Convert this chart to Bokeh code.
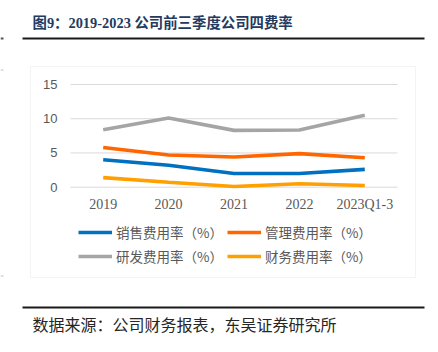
from bokeh.plotting import figure
from bokeh.models import (Range1d, Legend, LegendItem, FixedTicker, LinearAxis,
                          Label, BoxAnnotation)
from bokeh.core.properties import value
from bokeh.embed import file_html
from bokeh.resources import INLINE

categories = ["2019", "2020", "2021", "2022", "2023Q1-3"]
sales_rate = [4.0, 3.2, 2.0, 2.0, 2.6]
admin_rate = [5.8, 4.7, 4.4, 4.9, 4.3]
rnd_rate = [8.4, 10.1, 8.3, 8.35, 10.5]
fin_rate = [1.4, 0.73, 0.1, 0.5, 0.25]
series_names = ["销售费用率（%）", "管理费用率（%）", "研发费用率（%）", "财务费用率（%）"]
series_colors = ["#0070C0", "#FF6600", "#A5A5A5", "#FFA000"]
y_ticks = [0, 5, 10, 15]
title_text = "图9：2019-2023 公司前三季度公司四费率"
source_text = "数据来源：公司财务报表，东吴证券研究所"

# ---- page geometry (canvas pixels) ----
W, H = 438, 352
PLOT_L, PLOT_R = 70, 397      # category band extent
PLOT_T, PLOT_B = 84, 186.7    # y = 15 and y = 0
n = len(categories)
step = (PLOT_R - PLOT_L) / n
ppu = (PLOT_B - PLOT_T) / (y_ticks[-1] - y_ticks[0])
cx_start = -0.5 - PLOT_L / step
cy_start = y_ticks[0] - (H - PLOT_B) / ppu

p = figure(width=W, height=H, x_range=Range1d(0, W), y_range=Range1d(H, 0),
           x_axis_type=None, y_axis_type=None, min_border=0,
           output_backend="svg", toolbar_location=None)
p.outline_line_color = None
p.background_fill_color = "white"
p.border_fill_color = "white"
p.extra_x_ranges = {"cx": Range1d(cx_start, cx_start + W / step)}
p.extra_y_ranges = {"cy": Range1d(cy_start, cy_start + H / ppu)}

idx = list(range(n))

# horizontal gridlines across the category bands
p.segment(x0=[-0.5] * len(y_ticks), x1=[n - 0.5] * len(y_ticks), y0=y_ticks, y1=y_ticks,
          line_color="#D9D9D9", line_width=1, x_range_name="cx", y_range_name="cy")

renderers = []
for vals, col in zip([sales_rate, admin_rate, rnd_rate, fin_rate], series_colors):
    renderers.append(p.line(idx, vals, line_color=col, line_width=3.6,
                            x_range_name="cx", y_range_name="cy"))

xaxis = LinearAxis(x_range_name="cx", y_range_name="cy", fixed_location=0,
                   ticker=FixedTicker(ticks=idx),
                   major_label_overrides={i: c for i, c in enumerate(categories)})
yaxis = LinearAxis(x_range_name="cx", y_range_name="cy", fixed_location=-0.5,
                   ticker=FixedTicker(ticks=y_ticks))
for ax in (xaxis, yaxis):
    ax.axis_line_color = None
    ax.major_tick_line_color = None
    ax.minor_tick_line_color = None
    ax.major_tick_out = 0
    ax.major_tick_in = 0
    ax.minor_tick_out = 0
    ax.major_label_text_color = "#595959"
yaxis.major_label_text_font = "Liberation Sans"
yaxis.major_label_text_font_size = "13px"
yaxis.major_label_standoff = 13
xaxis.major_label_text_font = "Liberation Serif"
xaxis.major_label_text_font_size = "14px"
xaxis.major_label_standoff = 10
p.add_layout(xaxis, "below")
p.add_layout(yaxis, "left")

legend = Legend(items=[LegendItem(label=nm, renderers=[r]) for nm, r in zip(series_names, renderers)],
                orientation="horizontal", ncols=2,
                location=(78, 86), padding=0, margin=0, spacing=4,
                glyph_width=34, glyph_height=20, label_height=20, label_standoff=4,
                border_line_color=None, background_fill_alpha=0,
                label_text_font="Noto Sans CJK SC", label_text_font_size="13.5px",
                label_text_color="#595959")
p.add_layout(legend, "center")


def canvas_box(l, r, t, b, **kw):
    return BoxAnnotation(left=l, right=r, top=t, bottom=b,
                         left_units="canvas", right_units="canvas",
                         top_units="canvas", bottom_units="canvas", **kw)


# chart frame box
p.add_layout(canvas_box(30, 415, 66, 277, fill_alpha=0, line_color="#D9D9D9", line_width=1))
# rules
for yy in (38, 307):
    p.add_layout(canvas_box(22, 424, yy - 1, yy + 1, fill_color="#1A1A1A", fill_alpha=1, line_color=None))
p.add_layout(canvas_box(0, 3, 37, 39, fill_color="#555555", fill_alpha=1, line_color=None))
for yy in (69, 275):
    p.add_layout(canvas_box(0, 3, yy, yy + 1, fill_color="#BFBFBF", fill_alpha=1, line_color=None))

p.add_layout(Label(x=32, y=22.5, x_units="canvas", y_units="canvas", text=title_text,
                   text_font="Liberation Serif, Noto Sans CJK SC", text_font_style="bold",
                   text_font_size="14.4px", text_color="#243A5E", text_baseline="middle"))
p.add_layout(Label(x=32, y=323, x_units="canvas", y_units="canvas", text=source_text,
                   text_font="Noto Sans CJK SC", text_font_size="16px",
                   text_color="#262626", text_baseline="middle"))

open("out.html", "w").write(file_html(p, INLINE))
